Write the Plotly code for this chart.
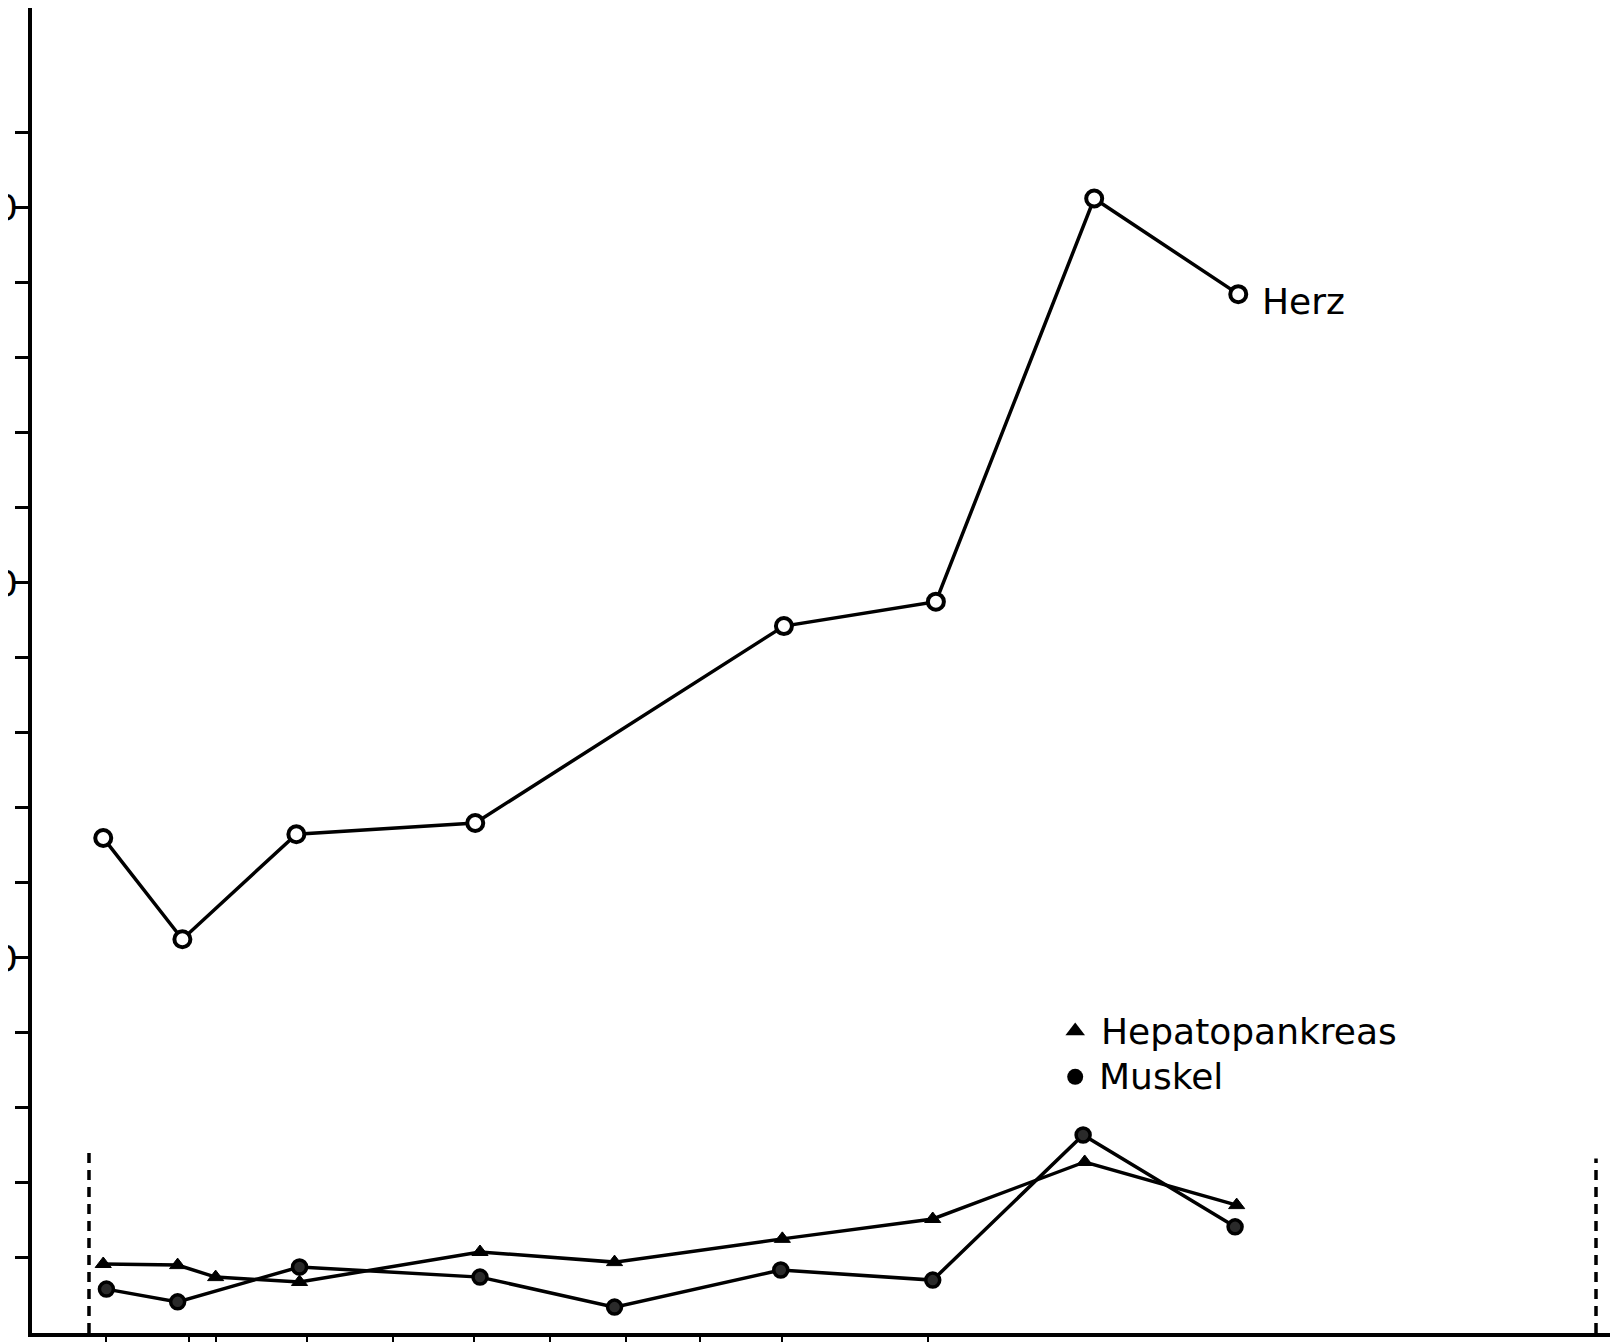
import plotly.graph_objects as go

# ---- data ----
herz_x = [4.5, 9.5, 16.7, 28.0, 47.5, 57.1, 67.1, 76.2]
herz_y = [13.2, 10.5, 13.3, 13.6, 18.85, 19.5, 30.25, 27.7]

hepato_x = [4.5, 9.2, 11.6, 16.9, 28.3, 36.8, 47.4, 56.9, 66.5, 76.1]
hepato_y = [1.84, 1.81, 1.49, 1.36, 2.16, 1.89, 2.51, 3.04, 4.56, 3.41]

muskel_x = [4.7, 9.2, 16.9, 28.3, 36.8, 47.3, 56.9, 66.4, 76.0]
muskel_y = [1.17, 0.83, 1.76, 1.49, 0.69, 1.68, 1.41, 5.28, 2.83]

y_tick_vals = [2, 4, 6, 8, 10, 12, 14, 16, 18, 20, 22, 24, 26, 28, 30, 32]
y_tick_text = ["", "", "", "", "10", "", "", "", "", "20", "", "", "", "", "30", ""]
x_tick_vals = [4.7, 9.9, 11.6, 17.4, 22.8, 27.9, 32.7, 37.5, 42.2, 47.4, 56.6]

period_start = 3.6
period_end = 98.8

label_herz = "Herz"
label_hepato = "Hepatopankreas"
label_muskel = "Muskel"

FONT = "DejaVu Sans"

fig = go.Figure()

fig.add_trace(go.Scatter(
    x=herz_x, y=herz_y, mode="lines+markers",
    line=dict(color="black", width=3.5),
    marker=dict(symbol="circle", size=16, color="white",
                line=dict(color="black", width=4)),
    showlegend=False, name=label_herz,
))
fig.add_trace(go.Scatter(
    x=hepato_x, y=hepato_y, mode="lines+markers",
    line=dict(color="black", width=3.5),
    marker=dict(symbol="triangle-up", size=14, color="black",
                line=dict(color="black", width=1)),
    showlegend=False, name=label_hepato,
))
fig.add_trace(go.Scatter(
    x=muskel_x, y=muskel_y, mode="lines+markers",
    line=dict(color="black", width=3.5),
    marker=dict(symbol="circle", size=14, color="#2a2a2a",
                line=dict(color="black", width=3.5)),
    showlegend=False, name=label_muskel,
))

# legend keys
fig.add_trace(go.Scatter(
    x=[65.9], y=[8.05], mode="markers",
    marker=dict(symbol="triangle-up", size=17, color="black"),
    showlegend=False, hoverinfo="skip",
))
fig.add_trace(go.Scatter(
    x=[65.9], y=[6.83], mode="markers",
    marker=dict(symbol="circle", size=16, color="black"),
    showlegend=False, hoverinfo="skip",
))

fig.add_annotation(x=77.6, y=27.5, text=label_herz, showarrow=False,
                   xanchor="left", yanchor="middle",
                   font=dict(family=FONT, size=36, color="black"))
fig.add_annotation(x=67.4, y=8.05, text=label_hepato, showarrow=False,
                   xanchor="left", yanchor="middle",
                   font=dict(family=FONT, size=36, color="black"))
fig.add_annotation(x=67.3, y=6.83, text=label_muskel, showarrow=False,
                   xanchor="left", yanchor="middle",
                   font=dict(family=FONT, size=36, color="black"))

# dashed period markers
fig.add_shape(type="line", x0=period_start, x1=period_start, y0=0, y1=4.9,
              xref="x", yref="y", line=dict(color="black", width=3.5, dash="10px,7px"))
fig.add_shape(type="line", x0=period_end, x1=period_end, y0=0, y1=4.65,
              xref="x", yref="y", line=dict(color="black", width=3.5, dash="10px,7px"))

fig.update_xaxes(
    range=[0, 100], showgrid=False, zeroline=False, automargin=False,
    showline=True, linecolor="black", linewidth=4,
    tickmode="array", tickvals=x_tick_vals, ticktext=[""] * len(x_tick_vals),
    ticks="outside", ticklen=5, tickwidth=2, tickcolor="black",
)
fig.update_yaxes(
    range=[0, 35.33], showgrid=False, zeroline=False, automargin=False,
    showline=True, linecolor="black", linewidth=4,
    tickmode="array", tickvals=y_tick_vals, ticktext=y_tick_text,
    ticks="outside", ticklen=13, tickwidth=3, tickcolor="black",
    ticklabelstandoff=-10,
    tickfont=dict(family=FONT, size=36, color="black"),
)

fig.update_layout(
    width=1610, height=1334,
    margin=dict(l=24, r=3, t=0, b=9, autoexpand=False),
    plot_bgcolor="white", paper_bgcolor="white",
    showlegend=False,
)

fig.write_html("out.html")
